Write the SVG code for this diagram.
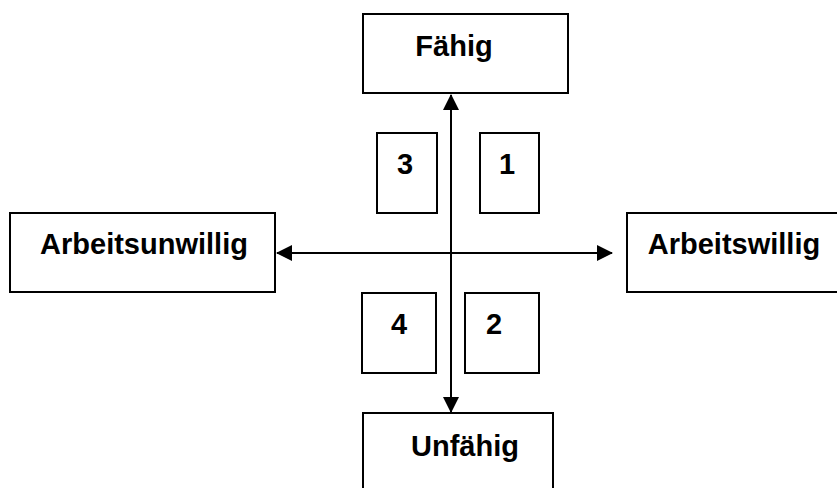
<svg xmlns="http://www.w3.org/2000/svg" width="837" height="488" viewBox="0 0 837 488">
<style>
.box{fill:#fff;stroke:#000;stroke-width:2}
.t{font-family:"Liberation Sans",Arial,sans-serif;font-weight:bold;font-size:29px;fill:#000;text-anchor:middle}
.c{stroke:#000;stroke-width:2;fill:none}
</style>
<defs>
<marker id="ah" markerUnits="userSpaceOnUse" markerWidth="16" markerHeight="16" viewBox="0 0 16 16" refX="15" refY="8" orient="auto">
<path d="M0,0 L16,8 L0,16 Z" fill="#000"/>
</marker>
</defs>
<g id="node-faehig"><rect class="box" x="363" y="14" width="205" height="79"/><text class="t" x="454" y="56">Fähig</text></g>
<g id="node-unfaehig"><rect class="box" x="363" y="413" width="190" height="90"/><text class="t" x="465" y="456">Unfähig</text></g>
<g id="node-arbeitsunwillig"><rect class="box" x="10" y="213" width="265" height="79"/><text class="t" x="144" y="254">Arbeitsunwillig</text></g>
<g id="node-arbeitswillig"><rect class="box" x="627" y="213" width="220" height="79"/><text class="t" x="734" y="254">Arbeitswillig</text></g>
<g id="node-3"><rect class="box" x="377" y="133" width="60" height="80"/><text class="t" x="405" y="174">3</text></g>
<g id="node-1"><rect class="box" x="480" y="133" width="59" height="80"/><text class="t" x="507" y="174">1</text></g>
<g id="node-4"><rect class="box" x="362" y="293" width="74" height="80"/><text class="t" x="399" y="334">4</text></g>
<g id="node-2"><rect class="box" x="465" y="293" width="74" height="80"/><text class="t" x="494" y="334">2</text></g>
<g id="connectors">
<line class="c" x1="451" y1="253" x2="451" y2="95" marker-end="url(#ah)"/>
<line class="c" x1="451" y1="253" x2="451" y2="412" marker-end="url(#ah)"/>
<line class="c" x1="451" y1="253" x2="277" y2="253" marker-end="url(#ah)"/>
<line class="c" x1="451" y1="253" x2="612" y2="253" marker-end="url(#ah)"/>
</g>
</svg>
